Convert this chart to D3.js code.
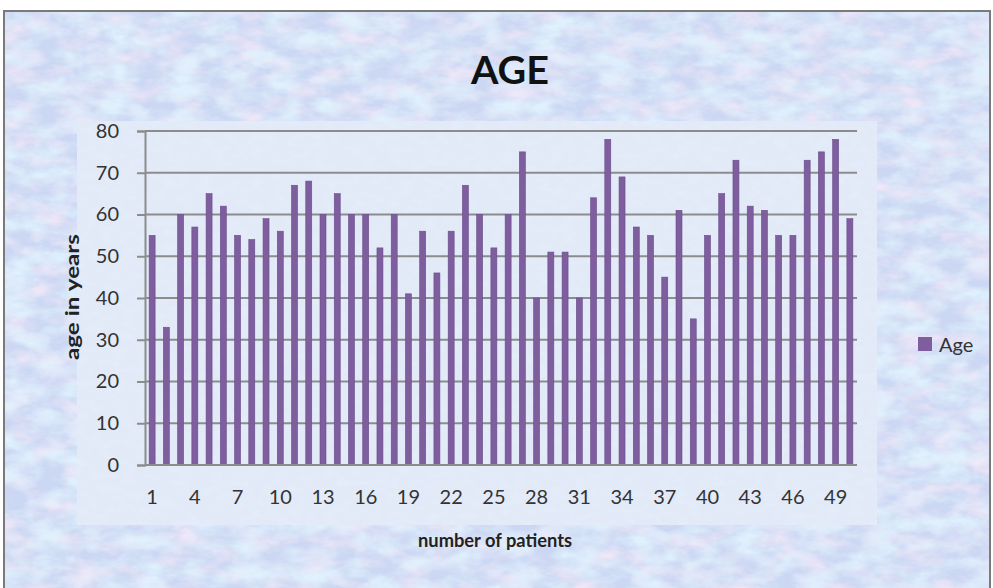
<!DOCTYPE html>
<html lang="en">
<head>
<meta charset="UTF-8">
<title>AGE</title>
<script src="https://d3js.org/d3.v7.min.js"></script>
<style>
  body { margin: 0; background: #fff; }
  text { font-family: Lato, "Open Sans", sans-serif; }
</style>
</head>
<body>
<svg id="chart" width="993" height="588"></svg>
<script>
// data
var patients = d3.range(1, 51)
var ages = [55, 33, 60, 57, 65, 62, 55, 54, 59, 56,
            67, 68, 60, 65, 60, 60, 52, 60, 41, 56,
            46, 56, 67, 60, 52, 60, 75, 40, 51, 51,
            40, 64, 78, 69, 57, 55, 45, 61, 35, 55,
            65, 73, 62, 61, 55, 55, 73, 75, 78, 59]
var yTicks = [0, 10, 20, 30, 40, 50, 60, 70, 80]
var xLabels = [1, 4, 7, 10, 13, 16, 19, 22, 25, 28, 31, 34, 37, 40, 43, 46, 49]

var svg = d3.select('#chart')
var defs = svg.append('defs')

// mottled pastel texture for the background
var f = defs.append('filter').attr('id', 'mottle')
  .attr('x', 0).attr('y', 0).attr('width', '100%').attr('height', '100%')
f.append('feTurbulence').attr('type', 'fractalNoise')
  .attr('baseFrequency', '0.03 0.06').attr('numOctaves', 4).attr('seed', 7).attr('result', 'n')
f.append('feColorMatrix').attr('in', 'n').attr('type', 'matrix')
  .attr('values', '0 0 0 0 0.97  0 0 0 0 0.84  0 0 0 0 0.95  2.2 0 0 0 -0.9')
  .attr('result', 'pink')
f.append('feColorMatrix').attr('in', 'n').attr('type', 'matrix')
  .attr('values', '0 0 0 0 0.78  0 0 0 0 0.93  0 0 0 0 1  0 2.4 0 0 -0.9')
  .attr('result', 'cyan')
var fm = f.append('feMerge')
fm.append('feMergeNode').attr('in', 'pink')
fm.append('feMergeNode').attr('in', 'cyan')

var f2 = defs.append('filter').attr('id', 'grain')
  .attr('x', 0).attr('y', 0).attr('width', '100%').attr('height', '100%')
f2.append('feTurbulence').attr('type', 'fractalNoise')
  .attr('baseFrequency', '0.08 0.15').attr('numOctaves', 3).attr('seed', 3).attr('result', 'n')
f2.append('feColorMatrix').attr('in', 'n').attr('type', 'matrix')
  .attr('values', '0 0 0 0 0.82  0 0 0 0 0.87  0 0 0 0 0.97  1.8 0 0 0 -0.85')

// outer frame
svg.append('rect').attr('x', 4).attr('y', 11).attr('width', 986).attr('height', 590)
  .attr('fill', '#ccd8f3')
svg.append('rect').attr('x', 4).attr('y', 11).attr('width', 986).attr('height', 590)
  .attr('filter', 'url(#mottle)').attr('opacity', 0.8)
svg.append('rect').attr('x', 4).attr('y', 11).attr('width', 986).attr('height', 590)
  .attr('fill', 'none').attr('stroke', '#7a7a7a').attr('stroke-width', 2)

// lighter plot panel
svg.append('rect').attr('x', 77).attr('y', 121).attr('width', 800).attr('height', 404)
  .attr('fill', '#e2eaf8')
svg.append('rect').attr('x', 77).attr('y', 121).attr('width', 800).attr('height', 404)
  .attr('filter', 'url(#grain)').attr('opacity', 0.6)

var plotLeft = 145, plotRight = 857, plotTop = 131, plotBottom = 465

var x = d3.scaleBand().domain(patients).range([plotLeft, plotRight])
  .paddingInner(0.58).paddingOuter(0.29)
var y = d3.scaleLinear().domain([0, 80]).range([plotBottom, plotTop])

// gridlines
svg.append('g').selectAll('line').data(yTicks).join('line')
  .attr('x1', plotLeft).attr('x2', plotRight)
  .attr('y1', function(d) { return y(d) }).attr('y2', function(d) { return y(d) })
  .attr('stroke', '#8c8c8c').attr('stroke-width', 2)

// y axis
var yAxis = svg.append('g').attr('transform', 'translate(' + plotLeft + ',0)')
  .call(d3.axisLeft(y).tickValues(yTicks).tickSize(8).tickPadding(18))
yAxis.select('.domain').attr('stroke', '#8c8c8c').attr('stroke-width', 2)
yAxis.selectAll('.tick line').attr('stroke', '#8c8c8c').attr('stroke-width', 2)
yAxis.selectAll('text').attr('font-size', 20).attr('fill', '#333')
  .style('font-family', 'Lato, "Open Sans", sans-serif')

// bars
svg.append('g').selectAll('rect').data(ages).join('rect')
  .attr('x', function(d, i) { return x(patients[i]) })
  .attr('y', function(d) { return y(d) })
  .attr('width', x.bandwidth())
  .attr('height', function(d) { return plotBottom - y(d) })
  .attr('fill', '#7f5e9f')
  .attr('stroke', '#6a4c8a').attr('stroke-width', 0.6)

// x axis
var xAxis = svg.append('g').attr('transform', 'translate(0,' + plotBottom + ')')
  .call(d3.axisBottom(x).tickValues(xLabels).tickSize(0).tickPadding(25))
xAxis.select('.domain').attr('stroke', '#8c8c8c').attr('stroke-width', 2)
  .attr('d', 'M' + plotLeft + ',0H' + plotRight)
xAxis.selectAll('text').attr('font-size', 20).attr('fill', '#333')
  .style('font-family', 'Lato, "Open Sans", sans-serif')

// titles
svg.append('text').attr('x', 510).attr('y', 84).attr('text-anchor', 'middle')
  .attr('font-size', 38).attr('font-weight', 'bold').attr('fill', '#111')
  .attr('textLength', 78).attr('lengthAdjust', 'spacingAndGlyphs').text('AGE')
svg.append('text').attr('x', 495).attr('y', 547).attr('text-anchor', 'middle')
  .attr('font-size', 19).attr('font-weight', 'bold').attr('fill', '#222')
  .attr('textLength', 154).attr('lengthAdjust', 'spacingAndGlyphs').text('number of patients')
svg.append('text').attr('transform', 'translate(79,' + 297 + ') rotate(-90)')
  .attr('text-anchor', 'middle')
  .attr('font-size', 19).attr('font-weight', 'bold').attr('fill', '#222')
  .attr('textLength', 126).attr('lengthAdjust', 'spacingAndGlyphs').text('age in years')

// legend
svg.append('rect').attr('x', 918).attr('y', 337).attr('width', 14).attr('height', 14)
  .attr('fill', '#7f5e9f')
svg.append('text').attr('x', 939).attr('y', 352).attr('font-size', 20).attr('fill', '#333').text('Age')
</script>
</body>
</html>
